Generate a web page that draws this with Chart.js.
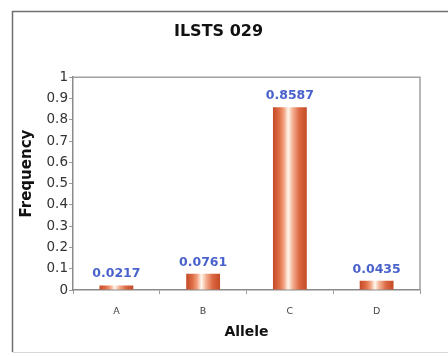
<!DOCTYPE html>
<html>
<head>
<meta charset="utf-8">
<script src="https://cdn.jsdelivr.net/npm/chart.js@4.4.0/dist/chart.umd.min.js"></script>
<style>
  html, body { margin: 0; padding: 0; background: #fff; overflow: hidden; }
  #wrap { width: 448px; height: 356px; }
</style>
</head>
<body>
<div id="wrap"><canvas id="barChart" width="448" height="356"></canvas></div>
<script>
// Dữ liệu của biểu đồ
var alleles = ['A', 'B', 'C', 'D'];
var frequencies = [0.0217, 0.0761, 0.8587, 0.0435];
var yTicks = [0, 0.1, 0.2, 0.3, 0.4, 0.5, 0.6, 0.7, 0.8, 0.9, 1];

var FONT = '"DejaVu Sans", "Liberation Sans", Arial, sans-serif';
var BAR_PCT = 0.39;

// Màu chuyển sắc ngang cho từng cột
function barGradient(context) {
    var chart = context.chart;
    var x = chart.scales.x;
    if (!x || !chart.chartArea) return '#d86440';
    var c = x.getPixelForValue(context.dataIndex);
    var hw = (x.width / alleles.length) * BAR_PCT / 2;
    if (!isFinite(c) || !isFinite(hw) || hw <= 0) return '#d86440';
    var g = chart.ctx.createLinearGradient(c - hw, 0, c + hw, 0);
    g.addColorStop(0, '#c44a26');
    g.addColorStop(0.18, '#de6c44');
    g.addColorStop(0.32, '#f2a07e');
    g.addColorStop(0.45, '#fff8ee');
    g.addColorStop(0.58, '#f4b294');
    g.addColorStop(0.78, '#dc6842');
    g.addColorStop(1, '#c44a26');
    return g;
}

// Khung ngoài, viền vùng vẽ, tiêu đề trục y và nhãn giá trị
var decorPlugin = {
    id: 'decor',
    beforeDraw: function (chart) {
        var ctx = chart.ctx;
        ctx.save();
        ctx.fillStyle = '#fff';
        ctx.fillRect(0, 0, chart.width, chart.height);
        ctx.strokeStyle = '#6f6f6f';
        ctx.lineWidth = 1.5;
        ctx.beginPath();
        ctx.moveTo(chart.width + 5, 11.5);
        ctx.lineTo(12.5, 11.5);
        ctx.lineTo(12.5, 352);
        ctx.stroke();
        ctx.strokeStyle = '#d8d8d8';
        ctx.lineWidth = 1;
        ctx.beginPath();
        ctx.moveTo(12.5, 352.5);
        ctx.lineTo(chart.width + 5, 352.5);
        ctx.stroke();
        ctx.restore();
    },
    afterDraw: function (chart) {
        var ctx = chart.ctx;
        var a = chart.chartArea;
        ctx.save();
        ctx.strokeStyle = '#a0a0a0';
        ctx.lineWidth = 1.5;
        ctx.beginPath();
        ctx.moveTo(a.left, a.top);
        ctx.lineTo(a.right, a.top);
        ctx.lineTo(a.right, a.bottom);
        ctx.stroke();

        // tiêu đề trục y, hơi lệch lên trên như hình gốc
        ctx.save();
        ctx.translate(27, (a.top + a.bottom) / 2 - 10);
        ctx.rotate(-Math.PI / 2);
        ctx.fillStyle = '#111';
        ctx.font = 'bold 15px ' + FONT;
        ctx.textAlign = 'center';
        ctx.textBaseline = 'middle';
        ctx.fillText('Frequency', 0, 0);
        ctx.restore();

        var meta = chart.getDatasetMeta(0);
        ctx.fillStyle = '#4a62cc';
        ctx.font = 'bold 12.5px ' + FONT;
        ctx.textAlign = 'center';
        ctx.textBaseline = 'bottom';
        meta.data.forEach(function (bar, i) {
            ctx.fillText(frequencies[i].toFixed(4), bar.x, bar.y - 5);
        });
        ctx.restore();
    }
};

var ctx = document.getElementById('barChart').getContext('2d');
var currentBarChart = new Chart(ctx, {
    type: 'bar',
    data: {
        labels: alleles,
        datasets: [{
            label: 'Frequency',
            data: frequencies,
            backgroundColor: barGradient,
            borderWidth: 0,
            barPercentage: BAR_PCT,
            categoryPercentage: 1
        }]
    },
    options: {
        responsive: false,
        animation: false,
        layout: { padding: { left: 17, right: 28, top: 0, bottom: 15 } },
        plugins: {
            legend: { display: false },
            tooltip: { enabled: false },
            title: {
                display: true,
                text: 'ILSTS 029',
                color: '#111',
                font: { family: FONT, size: 16, weight: 'bold' },
                padding: { top: 22, bottom: 36 }
            }
        },
        scales: {
            x: {
                grid: {
                    display: true,
                    drawOnChartArea: false,
                    drawTicks: true,
                    tickLength: 4,
                    color: '#9a9a9a'
                },
                border: { color: '#8a8a8a', width: 1.5 },
                ticks: {
                    color: '#444',
                    font: { family: FONT, size: 9.5 },
                    padding: 12
                },
                title: {
                    display: true,
                    text: 'Allele',
                    color: '#111',
                    font: { family: FONT, size: 14, weight: 'bold' },
                    padding: { top: 4, bottom: 0 }
                },
                afterFit: function (scale) { scale.height = 51; }
            },
            y: {
                min: 0,
                max: 1,
                afterBuildTicks: function (scale) {
                    scale.ticks = yTicks.map(function (v) { return { value: v }; });
                },
                grid: {
                    display: true,
                    drawOnChartArea: false,
                    drawTicks: true,
                    tickLength: 4,
                    color: '#9a9a9a'
                },
                border: { color: '#8a8a8a', width: 1.5 },
                ticks: {
                    color: '#333',
                    font: { family: FONT, size: 13.5 },
                    padding: 1,
                    callback: function (v) { return String(Math.round(v * 10) / 10); }
                },
                afterFit: function (scale) { scale.width = 56; }
            }
        }
    },
    plugins: [decorPlugin]
});
</script>
</body>
</html>
